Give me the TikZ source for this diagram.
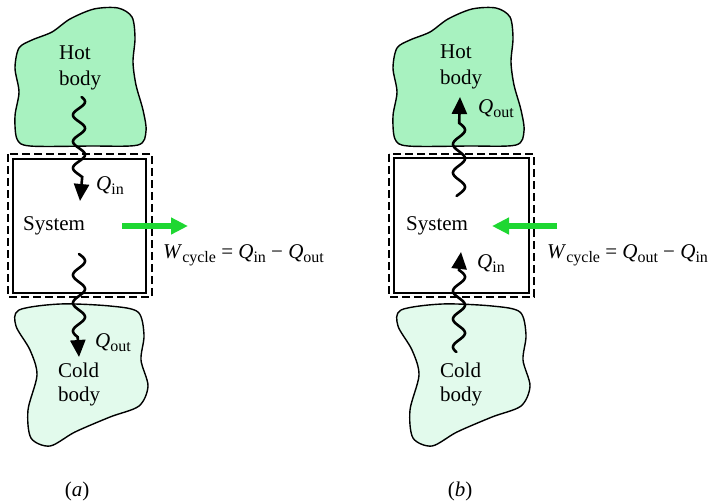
\documentclass[tikz,border=0pt]{standalone}
\usepackage{fontspec}
\setmainfont{Liberation Serif}
\usetikzlibrary{arrows.meta}
\definecolor{hotfill}{RGB}{168,242,192}
\definecolor{coldfill}{RGB}{226,250,236}
\definecolor{workgreen}{RGB}{30,215,50}
\newcommand{\mysub}[1]{\raisebox{-0.22em}{\fontsize{16}{16}\selectfont #1}}
\newcommand{\Wcyc}{\textit{W}\mysub{cycle}}
\begin{document}
\begin{tikzpicture}[x=1pt,y=-1pt,
  blob/.style={draw=black,line width=1.4pt},
  sysbox/.style={draw=black,line width=1.2pt},
  bndry/.style={draw=black,line width=1.2pt,dash pattern=on 8pt off 4pt},
  wave/.style={line width=2.6pt,line cap=round,-{Triangle[length=17pt,width=15pt]}},
  work/.style={draw=workgreen,line width=6.7pt,-{Triangle[length=17pt,width=16pt]}},
  lbl/.style={font=\fontsize{21}{24}\selectfont,inner sep=0pt,anchor=base west}]
\useasboundingbox (0,0) rectangle (708,501);
% bodies
\foreach \s in {0,378}{
  \begin{scope}[xshift=\s pt]
  \filldraw[blob,fill=hotfill] plot[smooth cycle] coordinates {(17,139) (15,116) (19,92) (15,68) (19,48) (32,40) (52,32) (70,19) (94,9) (118,8) (132,17) (135,38) (133,62) (136,85) (143,110) (146,131) (138,145) (90,146) (30,146)};
  \end{scope}}
\foreach \s in {0,382}{
  \begin{scope}[xshift=\s pt]
  \filldraw[blob,fill=coldfill] plot[smooth cycle] coordinates {(19,310) (60,304) (110,306) (138,312) (144,335) (141,360) (148,386) (139,406) (110,417) (75,432) (50,446) (31,438) (28,410) (37,375) (30,350) (16,326)};
  \end{scope}}
% systems
\draw[bndry] (8,154) rectangle (152,297);
\draw[sysbox] (13,159) rectangle (146,293);
\draw[bndry] (389,154) rectangle (534,297);
\draw[sysbox] (394,158) rectangle (529,293);
% heat transfer arrows
\coordinate (tipA1) at (80,201);
\coordinate (tipA2) at (79,357);
\coordinate (tipB1) at (460,97);
\coordinate (tipB2) at (461,252);
\draw[wave] plot[domain=97:177,samples=90] ({79-6*cos((\x-115)*13.585)},\x) -- (tipA1);
\draw[wave] plot[domain=254:337,samples=90] ({79-6*cos((\x-275)*12.857)},\x) -- (tipA2);
\draw[wave] plot[domain=0:73,samples=90] ({459+6*cos((66-\x)*12.632)},{196-\x}) -- (tipB1);
\draw[wave] plot[domain=0:82,samples=90] ({459+6*cos((75-\x)*12.857)},{352-\x}) -- (tipB2);
% work arrows
\coordinate (wAs) at (122,226);
\coordinate (wAe) at (188,226);
\coordinate (wBs) at (557,226);
\coordinate (wBe) at (492,226);
\draw[work] (wAs) -- (wAe);
\draw[work] (wBs) -- (wBe);
% texts (a)
\node[lbl] (hotA1) at (59,59) {Hot};
\node[lbl] (hotA2) at (59,85) {body};
\node[lbl] (coldA1) at (58,377) {Cold};
\node[lbl] (coldA2) at (58,401) {body};
\node[lbl] (sysA) at (23,230) {System};
\node[lbl] (qinA) at (96,190) {\textit{Q}\mysub{in}};
\node[lbl] (qoutA) at (95,347) {\textit{Q}\mysub{out}};
\node[lbl] (wA) at (163,258) {\Wcyc{} = \textit{Q}\mysub{in} − \textit{Q}\mysub{out}};
\node[lbl,anchor=base] (capA) at (77,496) {(\textit{a})};
% texts (b)
\node[lbl] (hotB1) at (440,58) {Hot};
\node[lbl] (hotB2) at (440,84) {body};
\node[lbl] (coldB1) at (440,377) {Cold};
\node[lbl] (coldB2) at (440,401) {body};
\node[lbl] (sysB) at (406,230) {System};
\node[lbl] (qoutB) at (478,113) {\textit{Q}\mysub{out}};
\node[lbl] (qinB) at (477,268) {\textit{Q}\mysub{in}};
\node[lbl] (wB) at (547,258) {\Wcyc{} = \textit{Q}\mysub{out} − \textit{Q}\mysub{in}};
\node[lbl,anchor=base] (capB) at (460,496) {(\textit{b})};
\end{tikzpicture}
\end{document}
